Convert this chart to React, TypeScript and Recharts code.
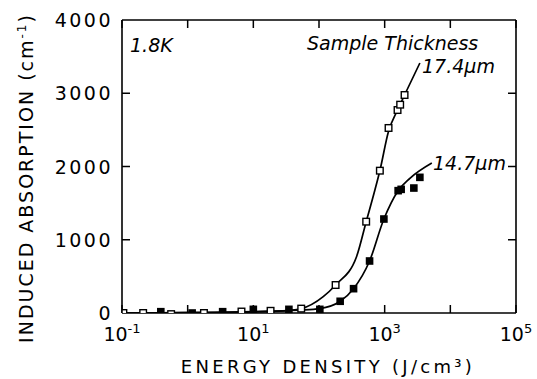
import { ComposedChart, Line, Scatter, XAxis, YAxis } from 'recharts'

// energy density (J/cm^3) vs induced absorption (cm^-1)
const open17x = [0.105, 0.21, 0.56, 1.77, 6.6, 18.3, 53.6, 179, 523, 845, 1146, 1571, 1722, 2009]
const open17y = [0, 0, -15, 0, 20, 30, 60, 382, 1247, 1943, 2526, 2771, 2844, 2976]

const filled14x = [0.39, 1.17, 3.41, 10, 34.8, 103, 210, 336, 589, 973, 1604, 1783, 2782, 3436]
const filled14y = [18, 0, 18, 50, 50, 50, 160, 332, 710, 1283, 1670, 1688, 1706, 1852]

// smooth hand-drawn curves (traced)
const curve17x = [0.1, 1, 10, 30, 54, 116, 179, 373, 523, 710, 845, 1146, 1571, 2009, 3436]
const curve17y = [0, 5, 15, 30, 60, 223, 382, 769, 1247, 1679, 1943, 2480, 2771, 2976, 3413]

const curve14x = [0.1, 10, 50, 103, 210, 336, 589, 973, 1604, 2421, 5224]
const curve14y = [0, 20, 40, 60, 160, 332, 710, 1283, 1670, 1839, 2048]

const xTicks = [0.1, 1, 10, 100, 1000, 10000, 100000]
const xLabelExp = [-1, 1, 3, 5]
const yTicks = [0, 1000, 2000, 3000, 4000]

const zip = (xs: number[], ys: number[]) => xs.map((x, i) => ({ x, y: ys[i] }))

const FONT = '"DejaVu Sans", sans-serif'
const INK = '#000'
const TICK = 8

function BottomTick({ x, y, payload }: any) {
  const e = Math.round(Math.log10(payload.value))
  return (
    <g>
      <line x1={x} x2={x} y1={y} y2={y - TICK} stroke={INK} strokeWidth={1.5} />
      {xLabelExp.includes(e) && (
        <text x={x} y={y + 28} textAnchor="middle" fontFamily={FONT} fontSize={19} fill={INK}>
          <tspan>10</tspan>
          <tspan dy={-8} fontSize={13}>{e}</tspan>
        </text>
      )}
    </g>
  )
}

function TopTick({ x, y }: any) {
  return <line x1={x} x2={x} y1={y} y2={y + TICK} stroke={INK} strokeWidth={1.5} />
}

function LeftTick({ x, y, payload }: any) {
  const v = payload.value
  return (
    <g>
      {v > 0 && v < 4000 && <line x1={x} x2={x + TICK} y1={y} y2={y} stroke={INK} strokeWidth={1.5} />}
      <text x={x - 9} y={y + 7} textAnchor="end" fontFamily={FONT} fontSize={19} letterSpacing={2.5} fill={INK}>
        {v}
      </text>
    </g>
  )
}

function RightTick({ x, y, payload }: any) {
  const v = payload.value
  if (v <= 0 || v >= 4000) return <g />
  return <line x1={x} x2={x - TICK} y1={y} y2={y} stroke={INK} strokeWidth={1.5} />
}

const OpenSquare = ({ cx, cy }: any) => (
  <rect x={cx - 3.3} y={cy - 3.3} width={6.6} height={6.6} fill="#fff" stroke={INK} strokeWidth={1.4} />
)
const FilledSquare = ({ cx, cy }: any) => (
  <rect x={cx - 3.8} y={cy - 3.8} width={7.6} height={7.6} fill={INK} />
)

const axisLine = { stroke: INK, strokeWidth: 1.6 }

export default function App() {
  const italic = { fontFamily: FONT, fontStyle: 'italic' as const, fontSize: 19, fill: INK }
  return (
    <div style={{ position: 'absolute', left: 0, top: 0, width: 537, height: 379, background: '#fff' }}>
      <ComposedChart width={537} height={379} margin={{ top: 10, right: 11, bottom: 36, left: 62 }}>
        <XAxis
          xAxisId="b"
          dataKey="x"
          type="number"
          scale="log"
          domain={[0.1, 100000]}
          ticks={xTicks}
          interval={0}
          allowDataOverflow
          height={30}
          tickSize={0}
          tickMargin={0}
          tickLine={false}
          axisLine={axisLine}
          tick={<BottomTick />}
        />
        <XAxis
          xAxisId="t"
          orientation="top"
          dataKey="x"
          type="number"
          scale="log"
          domain={[0.1, 100000]}
          ticks={xTicks}
          interval={0}
          allowDataOverflow
          height={10}
          tickSize={0}
          tickMargin={0}
          tickLine={false}
          axisLine={axisLine}
          tick={<TopTick />}
        />
        <YAxis
          yAxisId="l"
          dataKey="y"
          type="number"
          domain={[0, 4000]}
          ticks={yTicks}
          interval={0}
          allowDataOverflow
          width={60}
          tickSize={0}
          tickMargin={0}
          tickLine={false}
          axisLine={axisLine}
          tick={<LeftTick />}
        />
        <YAxis
          yAxisId="r"
          orientation="right"
          dataKey="y"
          type="number"
          domain={[0, 4000]}
          ticks={yTicks}
          interval={0}
          allowDataOverflow
          width={10}
          tickSize={0}
          tickMargin={0}
          tickLine={false}
          axisLine={axisLine}
          tick={<RightTick />}
        />
        <Line
          xAxisId="b"
          yAxisId="l"
          data={zip(curve17x, curve17y)}
          dataKey="y"
          type="monotone"
          stroke={INK}
          strokeWidth={1.7}
          dot={false}
          activeDot={false}
          isAnimationActive={false}
        />
        <Line
          xAxisId="b"
          yAxisId="l"
          data={zip(curve14x, curve14y)}
          dataKey="y"
          type="monotone"
          stroke={INK}
          strokeWidth={1.7}
          dot={false}
          activeDot={false}
          isAnimationActive={false}
        />
        <Scatter
          xAxisId="b"
          yAxisId="l"
          data={zip(filled14x, filled14y)}
          dataKey="y"
          shape={<FilledSquare />}
          isAnimationActive={false}
        />
        <Scatter
          xAxisId="b"
          yAxisId="l"
          data={zip(open17x, open17y)}
          dataKey="y"
          shape={<OpenSquare />}
          isAnimationActive={false}
        />
      </ComposedChart>
      <svg width={537} height={379} style={{ position: 'absolute', left: 0, top: 0, pointerEvents: 'none' }}>
        <text x={130} y={52} {...italic}>1.8K</text>
        <text x={307} y={50} {...italic}>Sample Thickness</text>
        <text x={422} y={73} {...italic}>17.4μm</text>
        <text x={433} y={170} {...italic}>14.7μm</text>
        <text x={328} y={373} textAnchor="middle" fontFamily={FONT} fontSize={18} letterSpacing={3.3} fill={INK}>
          ENERGY DENSITY (J/cm³)
        </text>
        <text
          transform="translate(33,178) rotate(-90)"
          textAnchor="middle"
          fontFamily={FONT}
          fontSize={19}
          letterSpacing={2}
          fill={INK}
        >
          INDUCED ABSORPTION (cm
          <tspan dy={-7} fontSize={12}>-1</tspan>
          <tspan dy={7}>)</tspan>
        </text>
      </svg>
    </div>
  )
}
